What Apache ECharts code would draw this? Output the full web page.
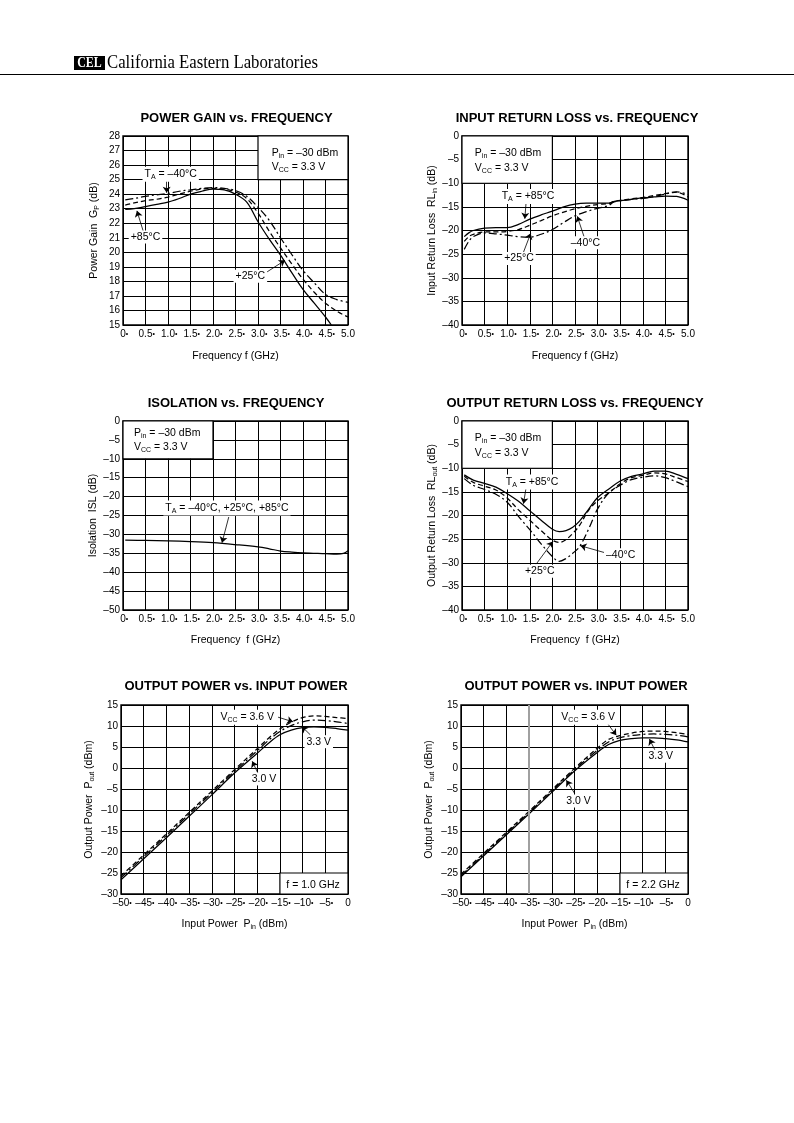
<!DOCTYPE html>
<html><head><meta charset="utf-8">
<script src="https://cdn.jsdelivr.net/npm/echarts@6/dist/echarts.min.js"></script>
<style>html,body{margin:0;padding:0;background:#fff}#c{width:794px;height:1123px}</style>
</head><body><div id="c"></div>
<script>
// ================= DATA =================
// Power gain vs frequency (GHz, dB)
const gainFreq    = [0.05,0.25,0.5,0.75,1.0,1.25,1.5,1.75,2.0,2.25,2.5,2.75,3.0,3.25,3.5,3.75,4.0,4.25,4.5,4.75,5.0];
const gainM40     = [23.6,23.7,23.85,23.95,24.05,24.2,24.3,24.4,24.45,24.4,24.25,23.85,23.1,22.2,21.0,19.85,18.75,17.9,17.1,16.75,16.55];
const gainP25     = [23.25,23.4,23.55,23.65,23.8,24.0,24.2,24.35,24.4,24.35,24.15,23.7,22.7,21.45,20.3,19.2,18.15,17.25,16.5,15.95,15.55];
const gainFreqP85 = [0.05,0.25,0.5,0.75,1.0,1.25,1.5,1.75,2.0,2.25,2.5,2.75,3.0,3.25,3.5,3.75,4.0,4.25,4.5,4.63];
const gainP85     = [22.95,23.0,23.15,23.3,23.45,23.7,24.0,24.2,24.35,24.3,24.0,23.45,22.1,20.9,19.8,18.6,17.45,16.5,15.55,15.0];

// Input return loss vs frequency
const rlinFreq = [0.05,0.15,0.25,0.5,0.75,1.0,1.25,1.5,1.75,2.0,2.25,2.5,2.75,3.0,3.25,3.35,3.5,3.75,4.0,4.25,4.5,4.75,5.0];
const rlinP85  = [-21.3,-20.5,-20.0,-19.5,-19.4,-19.4,-18.7,-17.6,-16.7,-15.9,-15.0,-14.4,-14.2,-14.2,-14.2,-13.9,-13.7,-13.4,-13.1,-12.9,-12.7,-12.8,-13.6];
const rlinP25  = [-22.3,-21.3,-20.8,-20.3,-20.3,-20.2,-19.8,-18.9,-17.9,-16.9,-16.1,-15.4,-14.9,-14.5,-14.3,-13.9,-13.6,-13.3,-13.0,-12.6,-12.2,-11.9,-12.9];
const rlinM40  = [-24.0,-22.3,-21.3,-20.5,-20.7,-21.0,-21.3,-21.4,-20.8,-19.8,-18.3,-16.9,-16.0,-15.3,-14.7,-14.0,-13.7,-13.4,-13.2,-12.8,-12.3,-11.8,-12.4];

// Isolation vs frequency
const isoFreq = [0.05,0.5,1.0,1.5,2.0,2.5,3.0,3.25,3.5,3.75,4.0,4.5,4.75,4.9,5.0];
const isoAll  = [-31.5,-31.6,-31.7,-31.9,-32.2,-32.7,-33.3,-33.8,-34.4,-34.7,-34.9,-35.1,-35.2,-35.0,-34.3];

// Output return loss vs frequency
const rloutFreq = [0.05,0.25,0.5,0.75,1.0,1.25,1.5,1.75,2.0,2.15,2.3,2.45,2.6,2.8,3.0,3.25,3.5,3.75,4.0,4.25,4.5,4.75,5.0];
const rloutP85  = [-11.4,-12.5,-13.2,-14.0,-15.4,-17.0,-19.0,-21.0,-22.9,-23.4,-23.2,-22.5,-21.2,-18.7,-16.2,-14.4,-12.7,-11.7,-11.2,-10.6,-10.6,-11.3,-12.2];
const rloutP25  = [-11.7,-13.0,-13.8,-14.6,-16.3,-18.8,-21.0,-23.2,-25.2,-25.7,-25.1,-23.8,-22.1,-18.9,-16.9,-15.2,-13.3,-12.0,-11.5,-11.0,-11.2,-12.0,-12.8];
const rloutM40  = [-12.2,-13.6,-14.5,-15.5,-17.2,-20.2,-23.0,-26.0,-28.7,-29.7,-29.1,-28.0,-26.6,-22.9,-18.6,-15.2,-13.6,-12.4,-11.9,-11.6,-12.0,-12.9,-13.9];

// Output power vs input power (dBm)
const pinVals = [-50,-45,-40,-35,-30,-25,-20,-17.5,-15,-12.5,-10,-7.5,-5,-2.5,0];
const pout1G_30 = [-26.6,-21.6,-16.6,-11.5,-6.4,-1.2,3.5,5.9,7.9,9.0,9.6,9.8,9.7,9.4,9.0];
const pout1G_33 = [-26.1,-21.1,-16.1,-11.0,-5.9,-0.8,4.1,6.6,8.7,10.1,11.0,11.4,11.3,11.0,10.6];
const pout1G_36 = [-25.7,-20.7,-15.7,-10.6,-5.5,-0.4,4.6,7.1,9.3,10.9,12.0,12.4,12.3,12.0,11.8];
const pout22G_30 = [-25.9,-20.9,-15.9,-10.9,-5.8,-0.7,3.7,5.6,6.6,7.0,7.2,7.2,7.0,6.7,6.2];
const pout22G_33 = [-25.6,-20.6,-15.6,-10.6,-5.5,-0.4,4.2,6.2,7.2,7.7,8.0,8.1,8.0,7.8,7.4];
const pout22G_36 = [-25.3,-20.3,-15.3,-10.3,-5.2,-0.1,4.7,6.8,7.7,8.3,8.7,8.8,8.7,8.4,8.0];

// Text
const titles = ['POWER GAIN vs. FREQUENCY','INPUT RETURN LOSS vs. FREQUENCY','ISOLATION vs. FREQUENCY',
                'OUTPUT RETURN LOSS vs. FREQUENCY','OUTPUT POWER vs. INPUT POWER','OUTPUT POWER vs. INPUT POWER'];
const yNames = ['Power Gain  G{s|P} (dB)','Input Return Loss  RL{s|in} (dB)','Isolation  ISL (dB)',
                'Output Return Loss  RL{s|out} (dB)','Output Power  P{s|out} (dBm)','Output Power  P{s|out} (dBm)'];
const xNames = ['Frequency f (GHz)','Frequency f (GHz)','Frequency  f (GHz)','Frequency  f (GHz)',
                'Input Power  P{s|in} (dBm)','Input Power  P{s|in} (dBm)'];

// ================= RENDER =================
const FONT = '"Liberation Sans", Arial, Helvetica, sans-serif';
const RICH = {s:{fontSize:7, fontFamily:FONT, color:'#000', verticalAlign:'bottom', lineHeight:13}};
const pairs = (xs, ys) => xs.map((x, i) => [x, ys[i]]);
const SOLID = 'solid', DASH = [5,3], DASHDOT = [8,3,2,3];
const dash = '\u2013';
const numFmt = v => v < 0 ? dash + Math.abs(v) : String(v);

const layout = [
  {left:123, top:136, width:225, height:189},
  {left:462, top:136, width:226, height:189},
  {left:123, top:421, width:225, height:189},
  {left:462, top:421, width:226, height:189},
  {left:121, top:705, width:227, height:189},
  {left:461, top:705, width:227, height:189}
];
const yRange = [[15,28,1],[-40,0,5],[-50,0,5],[-40,0,5],[-30,15,5],[-30,15,5]];
const yGap = [22,21,24,22,25,25];
const xGap = [26,26,25,25,24,24];
const titlePos = [[236.5,118.5],[577,118.5],[236,403],[575,403],[236,686],[576,686]];

const grid = layout.map(g => Object.assign({show:true, borderColor:'#000', borderWidth:1.4, containLabel:false}, g));

const xAxis = layout.map((g, i) => {
  const power = i >= 4;
  return {
    type:'value', gridIndex:i,
    min: power ? -50 : 0, max: power ? 0 : 5, interval: power ? 5 : 0.5,
    axisLine:{show:false}, axisTick:{show:false},
    splitLine:{show:true, lineStyle:{color:'#000', width:1}},
    axisLabel:{
      interval:0, margin:4, color:'#000', fontSize:10, fontFamily:FONT,
      formatter: v => {
        const last = power ? v === 0 : v === 5;
        const t = power ? numFmt(v) : (v === 0 ? '0' : v.toFixed(1));
        return last ? t : '{p|\u2022}' + t + '{b|\u2022}';
      },
      rich:{p:{fontSize:7, color:'rgba(0,0,0,0)'}, b:{fontSize:7, color:'#000'}}
    },
    name: xNames[i], nameLocation:'middle', nameGap: xGap[i],
    nameTextStyle:{color:'#000', fontSize:10.5, fontFamily:FONT, rich:RICH}
  };
});

const yAxis = layout.map((g, i) => ({
  type:'value', gridIndex:i, min:yRange[i][0], max:yRange[i][1], interval:yRange[i][2],
  axisLine:{show:false}, axisTick:{show:false},
  splitLine:{show:true, lineStyle:{color:'#000', width:1}},
  axisLabel:{margin:3, color:'#000', fontSize:10, fontFamily:FONT, formatter: numFmt},
  name: yNames[i], nameLocation:'middle', nameGap: yGap[i], nameRotate:90,
  nameTextStyle:{color:'#000', fontSize:10.5, fontFamily:FONT, rich:RICH}
}));

// annotation helpers
const lbl = (coord, text, align) => ({
  coord, symbol:'circle', symbolSize:0, value:0,
  label:{show:true, position:'inside', formatter:() => text, align: align || 'center', verticalAlign:'middle'}
});
const arr = (a, b) => [{coord:a}, {coord:b}];
const box = (a, b) => [{coord:a}, {coord:b}];

function marks(labels, arrows, boxes) {
  return {
    markPoint:{
      silent:true, animation:false,
      label:{show:true, color:'#000', fontSize:10.5, fontFamily:FONT, backgroundColor:'#fff', padding:[1,2], rich:RICH},
      data: labels
    },
    markLine:{
      silent:true, animation:false, symbol:['none','arrow'], symbolSize:6,
      label:{show:false}, lineStyle:{color:'#000', width:0.8, type:'solid'},
      emphasis:{disabled:true}, data: arrows
    },
    markArea:{
      silent:true, animation:false,
      itemStyle:{color:'#fff', borderColor:'#000', borderWidth:1.2},
      data: boxes
    }
  };
}

function line(i, data, type, extra) {
  return Object.assign({
    type:'line', xAxisIndex:i, yAxisIndex:i, data, showSymbol:false, symbol:'none',
    smooth:0.35, animation:false, silent:true, z:3,
    lineStyle:{color:'#000', width:1.25, type}
  }, extra || {});
}

const PIN = 'P{s|in} = ' + dash + '30 dBm', VCC33 = 'V{s|CC} = 3.3 V';

const series = [
  // 1 Power gain
  line(0, pairs(gainFreq, gainM40), DASHDOT, marks(
    [lbl([3.26,26.8], PIN, 'left'), lbl([3.26,25.85], VCC33, 'left'),
     lbl([1.06,25.37], 'T{s|A} = ' + dash + '40°C'), lbl([0.5,21.06], '+85°C'), lbl([2.83,18.36], '+25°C')],
    [arr([0.97,24.98],[0.97,24.1]), arr([0.45,21.45],[0.31,22.85]), arr([3.15,18.55],[3.6,19.45])],
    [box([3.0,28],[5.0,25])])),
  line(0, pairs(gainFreq, gainP25), DASH),
  line(0, pairs(gainFreqP85, gainP85), SOLID),
  // 2 Input return loss
  line(1, pairs(rlinFreq, rlinM40), DASHDOT, marks(
    [lbl([0.24,-3.55], PIN, 'left'), lbl([0.24,-6.75], VCC33, 'left'),
     lbl([1.46,-12.8], 'T{s|A} = +85°C'), lbl([1.26,-25.9], '+25°C'), lbl([2.73,-22.6], dash + '40°C')],
    [arr([1.42,-13.8],[1.39,-17.5]), arr([1.36,-24.6],[1.52,-20.6]), arr([2.71,-21.6],[2.55,-17.0])],
    [box([0,0],[2.0,-10])])),
  line(1, pairs(rlinFreq, rlinP25), DASH),
  line(1, pairs(rlinFreq, rlinP85), SOLID),
  // 3 Isolation
  line(2, pairs(isoFreq, isoAll), SOLID, marks(
    [lbl([0.2,-3.2], PIN, 'left'), lbl([0.2,-6.9], VCC33, 'left'),
     lbl([2.31,-23.0], 'T{s|A} = ' + dash + '40°C, +25°C, +85°C')],
    [arr([2.35,-25.4],[2.2,-32.2])],
    [box([0,0],[2.0,-10])])),
  // 4 Output return loss
  line(3, pairs(rloutFreq, rloutM40), DASHDOT, marks(
    [lbl([0.24,-3.55], PIN, 'left'), lbl([0.24,-6.75], VCC33, 'left'),
     lbl([1.55,-12.9], 'T{s|A} = +85°C'), lbl([1.72,-31.8], '+25°C'), lbl([3.51,-28.3], dash + '40°C')],
    [arr([1.42,-14.0],[1.36,-17.5]), arr([1.64,-30.3],[2.01,-25.5]), arr([3.17,-27.9],[2.62,-26.4])],
    [box([0,0],[2.0,-10])])),
  line(3, pairs(rloutFreq, rloutP25), DASH),
  line(3, pairs(rloutFreq, rloutP85), SOLID),
  // 5 Output power 1.0 GHz
  line(4, pairs(pinVals, pout1G_36), DASH, marks(
    [lbl([-22.2,12.07], 'V{s|CC} = 3.6 V'), lbl([-6.45,6.26], '3.3 V'), lbl([-18.5,-2.6], '3.0 V'),
     lbl([-7.7,-27.9], 'f = 1.0 GHz')],
    [arr([-15.4,12.1],[-12.1,11.0]), arr([-8.3,7.9],[-10.2,9.9]), arr([-19.8,-1.3],[-21.1,1.6])],
    [box([-15,-25],[0,-30])])),
  line(4, pairs(pinVals, pout1G_33), DASHDOT),
  line(4, pairs(pinVals, pout1G_30), SOLID),
  // 6 Output power 2.2 GHz
  line(5, pairs(pinVals, pout22G_36), DASH, marks(
    [lbl([-22.0,12.07], 'V{s|CC} = 3.6 V'), lbl([-6.0,2.8], '3.3 V'), lbl([-24.1,-7.86], '3.0 V'),
     lbl([-7.7,-27.9], 'f = 2.2 GHz')],
    [arr([-18.0,11.0],[-15.8,7.8]), arr([-7.3,4.3],[-8.5,6.9]), arr([-25.0,-6.0],[-26.8,-2.9])],
    [box([-15,-25],[0,-30])])),
  line(5, pairs(pinVals, pout22G_33), DASHDOT, {
    markLine:{silent:true, animation:false, symbol:'none', label:{show:false},
      lineStyle:{color:'#a0a0a0', width:2, type:'solid'}, data:[{xAxis:-35}]}
  }),
  line(5, pairs(pinVals, pout22G_30), SOLID)
];

const graphic = [
  {type:'rect', shape:{x:74, y:56, width:31, height:14}, style:{fill:'#000'}},
  {type:'text', x:89.5, y:63.5, style:{text:'CEL', fill:'#fff', font:'bold 14px "Liberation Serif", "Times New Roman", serif', align:'center', verticalAlign:'middle'}, scaleX:0.85},
  {type:'text', x:107, y:63.5, scaleX:0.93, style:{text:'California Eastern Laboratories', fill:'#000', font:'18px "Liberation Serif", "Times New Roman", serif', align:'left', verticalAlign:'middle'}},
  {type:'line', shape:{x1:0, y1:74.5, x2:794, y2:74.5}, style:{stroke:'#000', lineWidth:1}}
].concat(titles.map((t, i) => ({
  type:'text', x:titlePos[i][0], y:titlePos[i][1],
  style:{text:t, fill:'#000', font:'bold 13px ' + FONT, align:'center', verticalAlign:'middle'}
})));

const chart = echarts.init(document.getElementById('c'), null, {renderer:'canvas'});
chart.setOption({animation:false, backgroundColor:'#fff', grid, xAxis, yAxis, series, graphic});
</script>
</body></html>
